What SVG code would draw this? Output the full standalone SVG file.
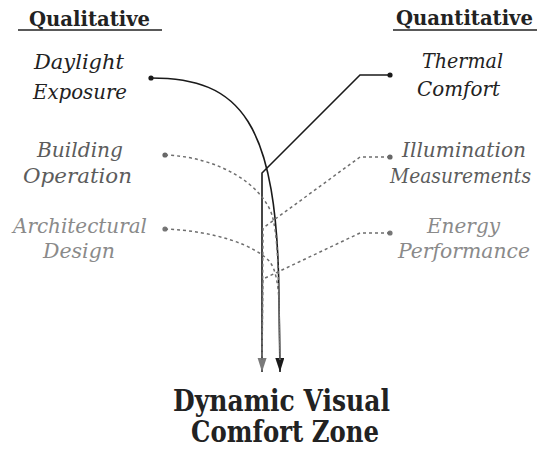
<svg xmlns="http://www.w3.org/2000/svg" width="541" height="452" viewBox="0 0 541 452">
  <style>
    text { font-family: 'DejaVu Serif', serif; text-anchor: middle; }
    .title { font-weight: bold; font-size: 21px; fill: #222; }
    .lbl { font-style: italic; font-size: 21px; }
    .dark { fill: #222; }
    .mid { fill: #5c5c5c; }
    .light { fill: #8a8a8a; }
    .big { font-weight: bold; font-size: 29px; fill: #222; }
    .end { text-anchor: end; }
    .solid { fill: none; stroke: #1a1a1a; stroke-width: 1.6; }
    .dash { fill: none; stroke: #6e6e6e; stroke-width: 1.5; stroke-dasharray: 3 3; }
    .rule { stroke: #222; stroke-width: 1.3; }
  </style>
  <defs>
    <marker id="arrowBlack" markerUnits="userSpaceOnUse" markerWidth="16" markerHeight="10" refX="14" refY="4.5" orient="auto">
      <path d="M0,0 L14,4.5 L0,9 Z" fill="#1a1a1a"/>
    </marker>
    <marker id="arrowGray" markerUnits="userSpaceOnUse" markerWidth="16" markerHeight="10" refX="14" refY="4.5" orient="auto">
      <path d="M0,0 L14,4.5 L0,9 Z" fill="#7a7a7a"/>
    </marker>
  </defs>

  <g id="headers">
    <text class="title" x="89.5" y="26" textLength="121" lengthAdjust="spacingAndGlyphs">Qualitative</text>
    <line class="rule" x1="18" y1="30" x2="162" y2="30"/>
    <text class="title end" x="533" y="25" textLength="137" lengthAdjust="spacingAndGlyphs">Quantitative</text>
    <line class="rule" x1="393" y1="30" x2="537" y2="30"/>
  </g>

  <g id="daylight-exposure">
    <text class="lbl dark" x="79" y="69" textLength="90" lengthAdjust="spacingAndGlyphs">Daylight</text>
    <text class="lbl dark" x="80" y="99" textLength="94" lengthAdjust="spacingAndGlyphs">Exposure</text>
    <circle cx="151" cy="78" r="2.6" fill="#1a1a1a"/>
  </g>
  <g id="building-operation">
    <text class="lbl mid" x="80" y="157" textLength="86" lengthAdjust="spacingAndGlyphs">Building</text>
    <text class="lbl mid" x="77.5" y="183" textLength="109" lengthAdjust="spacingAndGlyphs">Operation</text>
    <circle cx="165" cy="155" r="2.6" fill="#666"/>
  </g>
  <g id="architectural-design">
    <text class="lbl light" x="80" y="233" textLength="134" lengthAdjust="spacingAndGlyphs">Architectural</text>
    <text class="lbl light" x="79" y="258" textLength="72" lengthAdjust="spacingAndGlyphs">Design</text>
    <circle cx="165" cy="229" r="2.6" fill="#777"/>
  </g>
  <g id="thermal-comfort">
    <text class="lbl dark" x="462.5" y="68" textLength="81" lengthAdjust="spacingAndGlyphs">Thermal</text>
    <text class="lbl dark" x="458.5" y="96" textLength="83" lengthAdjust="spacingAndGlyphs">Comfort</text>
    <circle cx="390" cy="75" r="2.6" fill="#1a1a1a"/>
  </g>
  <g id="illumination-measurements">
    <text class="lbl mid" x="464" y="157" textLength="124" lengthAdjust="spacingAndGlyphs">Illumination</text>
    <text class="lbl mid end" x="531" y="183" textLength="141" lengthAdjust="spacingAndGlyphs">Measurements</text>
    <circle cx="390" cy="157" r="2.6" fill="#666"/>
  </g>
  <g id="energy-performance">
    <text class="lbl light" x="463.5" y="233" textLength="73" lengthAdjust="spacingAndGlyphs">Energy</text>
    <text class="lbl light" x="464" y="258" textLength="132" lengthAdjust="spacingAndGlyphs">Performance</text>
    <circle cx="390" cy="233" r="2.6" fill="#777"/>
  </g>

  <g id="connectors">
    <path class="solid" d="M390,75 L360,75 L262,173 L262,372"/>
    <path class="solid" d="M151,78 C240,78 278,120 279,300 L280,372" marker-end="url(#arrowBlack)"/>
    <path class="dash" d="M165,155 C220,157 262,185 272,215 C277,232 278,260 279,300 L280,360"/>
    <path class="dash" d="M165,229 C215,231 255,245 270,262 C276,270 278,285 279,300 L280,360"/>
    <path class="dash" d="M390,157 L360,157 L263,228 L262,372" marker-end="url(#arrowGray)"/>
    <path class="dash" d="M390,233 L360,233 L263,279 L262,360"/>
  </g>

  <g id="dynamic-visual-comfort-zone">
    <text class="big" x="281.5" y="411" textLength="217" lengthAdjust="spacingAndGlyphs">Dynamic Visual</text>
    <text class="big" x="285" y="442" textLength="188" lengthAdjust="spacingAndGlyphs">Comfort Zone</text>
  </g>
</svg>
